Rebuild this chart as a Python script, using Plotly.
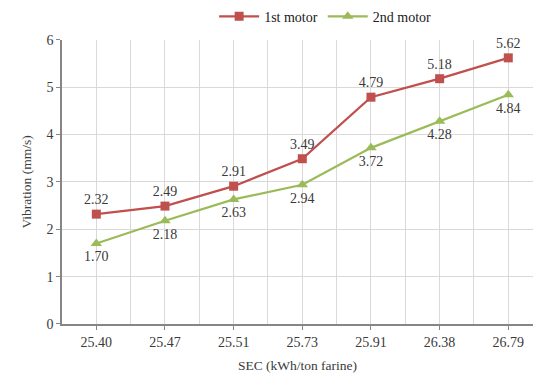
import plotly.graph_objects as go

sec_labels = ["25.40", "25.47", "25.51", "25.73", "25.91", "26.38", "26.79"]
motor1 = [2.32, 2.49, 2.91, 3.49, 4.79, 5.18, 5.62]
motor2 = [1.70, 2.18, 2.63, 2.94, 3.72, 4.28, 4.84]

pos = list(range(len(sec_labels)))
FONT = "Liberation Serif"
RED = "#C0504D"
GREEN = "#9BBB59"
TXT = "#3A3A3A"
FS = 14

fig = go.Figure()
fig.add_trace(go.Scatter(
    x=pos, y=motor1, name="1st motor", mode="lines+markers+text",
    line=dict(color=RED, width=2.25),
    marker=dict(symbol="square", size=9, color=RED),
    text=[f"{v:.2f}" for v in motor1], textposition="top center",
    textfont=dict(family=FONT, size=FS, color=TXT), cliponaxis=False,
))
fig.add_trace(go.Scatter(
    x=pos, y=motor2, name="2nd motor", mode="lines+markers+text",
    line=dict(color=GREEN, width=2.25),
    marker=dict(symbol="triangle-up", size=10, color=GREEN),
    text=[f"{v:.2f}" for v in motor2], textposition="bottom center",
    textfont=dict(family=FONT, size=FS, color=TXT), cliponaxis=False,
))

fig.update_layout(
    width=533, height=385,
    margin=dict(l=62, r=0, t=36, b=61),
    paper_bgcolor="white", plot_bgcolor="white",
    font=dict(family=FONT, size=FS, color=TXT),
    showlegend=True,
    legend=dict(orientation="h", x=0.61, xanchor="center", xref="container",
                y=0.998, yanchor="top", yref="container",
                font=dict(family=FONT, size=FS, color="#202020"),
                itemwidth=40, tracegroupgap=0, bgcolor="rgba(0,0,0,0)"),
    xaxis=dict(
        range=[-0.5, 6.36], tickmode="array", tickvals=pos, ticktext=sec_labels,
        showgrid=True, gridcolor="#D9D9D9", gridwidth=1,
        minor=dict(tick0=-0.5, dtick=1, showgrid=True, gridcolor="#D9D9D9", ticks=""),
        showline=True, linecolor="#868686", linewidth=1.5,
        ticks="outside", ticklen=4, tickcolor="#868686",
        zeroline=False, fixedrange=True,
        title=dict(text="SEC (kWh/ton farine)", font=dict(family=FONT, size=13.5, color=TXT), standoff=12),
    ),
    yaxis=dict(
        range=[0, 6], dtick=1, tickformat="d",
        showgrid=True, gridcolor="#D9D9D9", gridwidth=1,
        showline=True, linecolor="#868686", linewidth=1.5,
        ticks="outside", ticklen=4, tickcolor="#868686",
        zeroline=False,
        title=dict(text="Vibration (mm/s)", font=dict(family=FONT, size=13.5, color=TXT), standoff=12),
    ),
)

fig.write_html("out.html")
